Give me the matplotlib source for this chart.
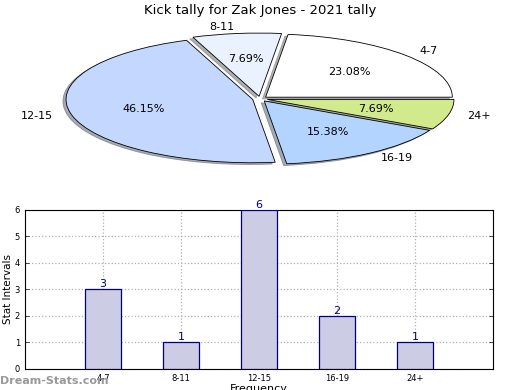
import matplotlib.pyplot as plt

# data
categories = ['4-7', '8-11', '12-15', '16-19', '24+']
counts = [3, 1, 6, 2, 1]
pie_colors = ['#ffffff', '#eaf1ff', '#c4d8ff', '#b3d4ff', '#d0ea8c']

fig = plt.figure(figsize=(5.2, 3.9), dpi=100)

# pie on top, squashed into an ellipse
ax1 = fig.add_axes([0.105, 0.568, 0.79, 0.357])
ax1.pie(counts, labels=categories, colors=pie_colors, explode=[0.04] * 5,
        autopct='%.2f%%', shadow={'ox': -0.012, 'oy': -0.02, 'shade': 0.6},
        startangle=0, counterclock=True,
        labeldistance=1.1, pctdistance=0.6,
        wedgeprops={'edgecolor': 'black', 'linewidth': 0.6},
        textprops={'fontsize': 8})
ax1.set_aspect('auto')
ax1.set_xlim(-1.1, 1.1)
ax1.set_ylim(-1.1, 1.1)
fig.text(0.5, 0.972, 'Kick tally for Zak Jones - 2021 tally', ha='center', va='center', fontsize=9.5)

# bar chart below
ax2 = fig.add_axes([0.048, 0.054, 0.9, 0.408])
x = range(len(categories))
ax2.bar(x, counts, width=0.46, color='#ccccE5', edgecolor='#000080', linewidth=0.9, zorder=3)
for xi, c in zip(x, counts):
    ax2.text(xi, c, str(c), ha='center', va='bottom', color='#000080', fontsize=8, zorder=4)
ax2.set_xlim(-1, 5)
ax2.set_ylim(0, 6)
ax2.set_xticks(list(x))
ax2.set_xticklabels(categories, fontsize=6)
ax2.set_yticks(range(7))
ax2.tick_params(axis='y', labelsize=6)
ax2.tick_params(direction='in', length=3, right=True, top=False, width=0.5)
ax2.grid(True, linestyle=':', color='#b0b0b0', linewidth=0.9, zorder=0)
ax2.set_ylabel('Stat Intervals', fontsize=7.5, labelpad=1)
ax2.set_xlabel('Frequency', fontsize=8, labelpad=1)
for s in ax2.spines.values():
    s.set_linewidth(0.8)

fig.text(0.0, 0.022, 'Dream-Stats.com', ha='left', va='center', fontsize=8,
         color='#999999', fontweight='bold')

fig.savefig('out.png', dpi=100)
